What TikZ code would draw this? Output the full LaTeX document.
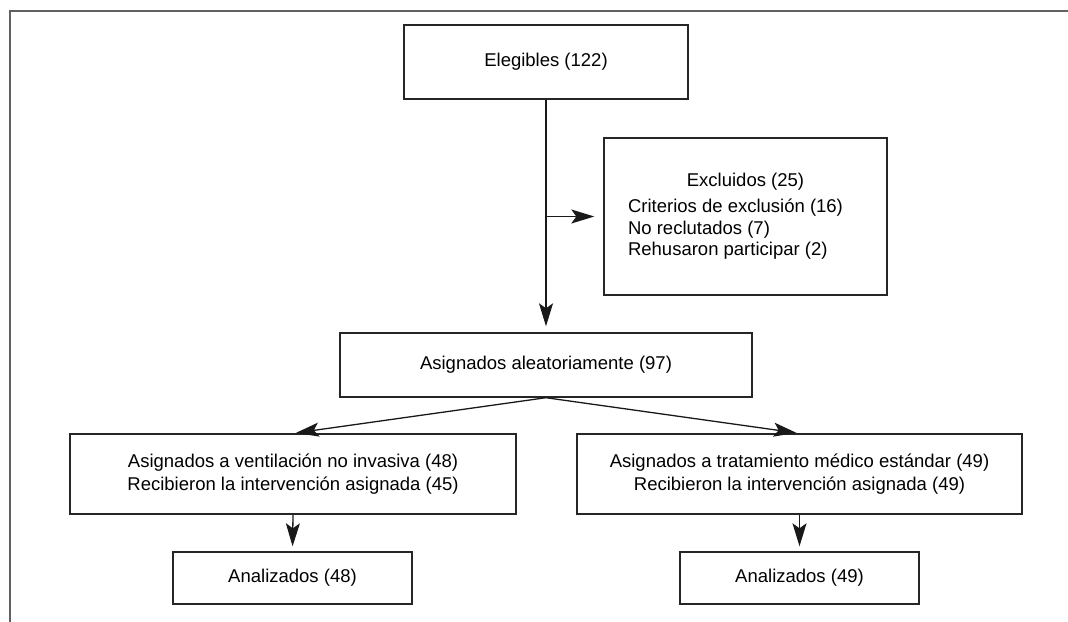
\documentclass[tikz,border=0pt]{standalone}
\usepackage{fontspec}
\setmainfont{Liberation Sans}
\usetikzlibrary{arrows.meta}
\tikzset{
  box/.style={draw=black!85, line width=1.4pt, fill=white, inner sep=0pt, align=center,
    font=\fontsize{18.5}{22.5}\selectfont},
  arr/.style={draw=black!90, line width=1.3pt, -{Stealth[length=23pt,width=14pt,inset=5pt]}},
  frame/.style={draw=black!62, line width=2pt}
}
\begin{document}
\begin{tikzpicture}[x=1pt,y=-1pt]
\useasboundingbox (0,0) rectangle (1068,621);
\coordinate (ftr) at (1070,11);
\coordinate (ftl) at (10,11);
\coordinate (fbl) at (10,623);
\draw[frame] (ftr) -- (ftl) -- (fbl);

\node[box, minimum width=284, minimum height=74] (eleg) at (546,62) {Elegibles (122)};
\node[box, minimum width=283, minimum height=157] (excl) at (745.5,216.5)
  {\begin{tabular}{@{}l@{\hspace{20pt}}}
   \multicolumn{1}{@{}c@{}}{Excluidos (25)}\\[4pt]
   Criterios de exclusión (16)\\[-1pt]
   No reclutados (7)\\[-1pt]
   Rehusaron participar (2)
   \end{tabular}};
\node[box, minimum width=412, minimum height=64] (asig) at (546,365) {Asignados aleatoriamente (97)};
\node[box, minimum width=446, minimum height=80] (vni) at (293,474)
  {Asignados a ventilación no invasiva (48)\\Recibieron la intervención asignada (45)};
\node[box, minimum width=445, minimum height=80] (tme) at (799.5,474)
  {Asignados a tratamiento médico estándar (49)\\Recibieron la intervención asignada (49)};
\node[box, minimum width=239, minimum height=52] (an48) at (292.5,578) {Analizados (48)};
\node[box, minimum width=239, minimum height=52] (an49) at (799.5,578) {Analizados (49)};

\draw[arr, shorten >=6pt] (eleg.south) -- (asig.north);
\draw[arr, shorten >=9pt] (eleg.south |- excl.west) -- (excl.west);
\draw[arr, shorten >=3pt] (asig.south) -- (vni.north);
\draw[arr, shorten >=3pt] (asig.south) -- (tme.north);
\draw[arr, shorten >=5pt] (vni.south) -- (an48.north);
\draw[arr, shorten >=5pt] (tme.south) -- (an49.north);
\end{tikzpicture}
\end{document}
